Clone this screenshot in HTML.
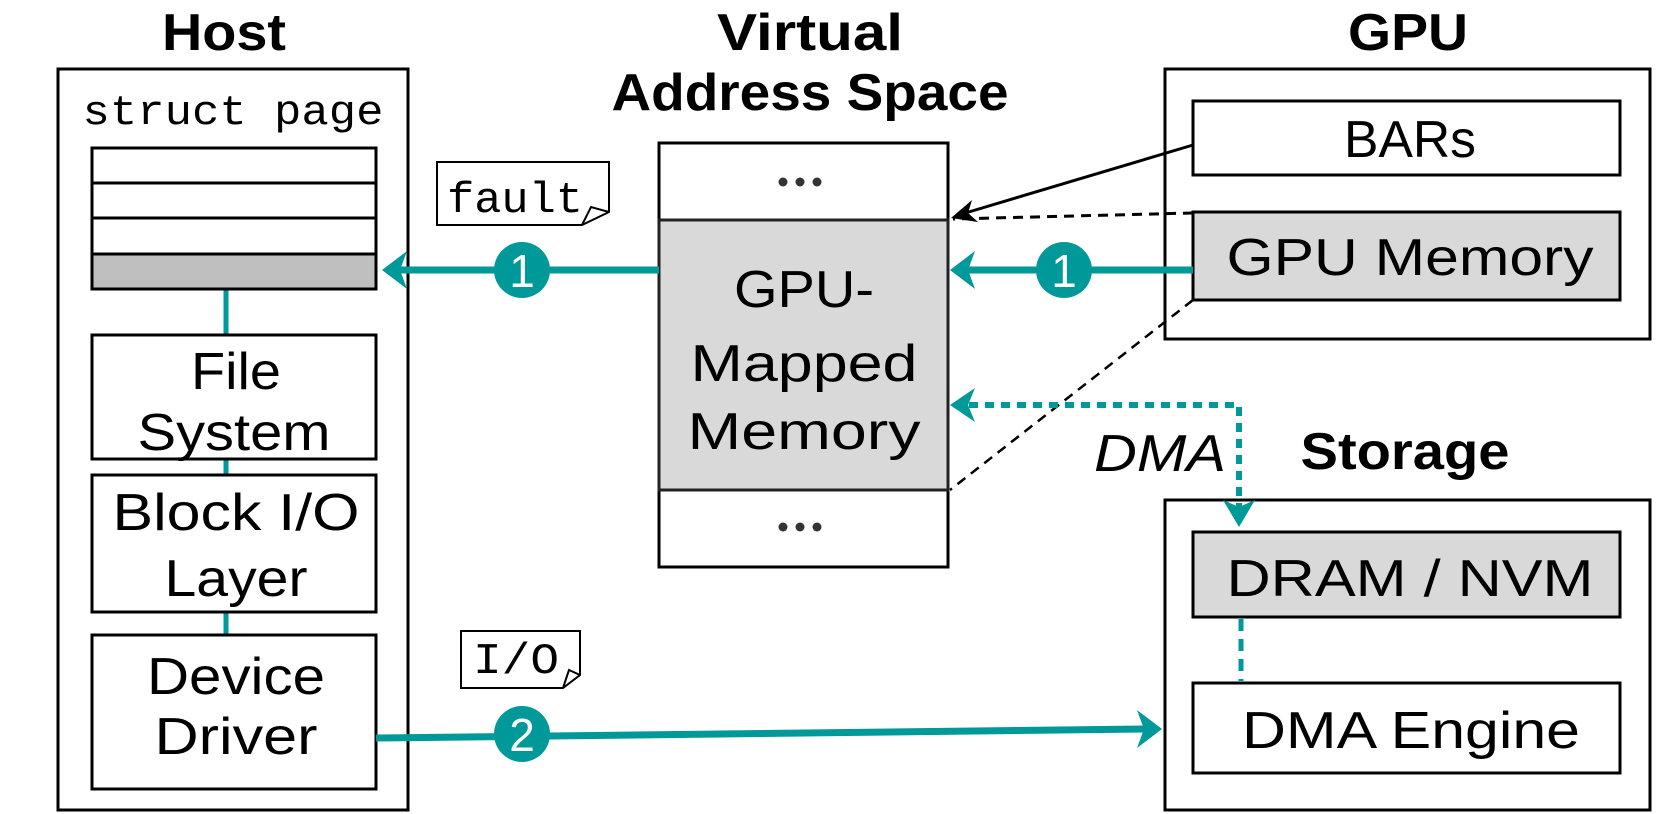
<!DOCTYPE html>
<html><head><meta charset="utf-8"><style>
html,body{margin:0;padding:0;background:#fff;}
svg{display:block;}
text{font-family:"Liberation Sans",sans-serif;fill:#000;}
.m{font-family:"Liberation Mono",monospace;}
</style></head><body>
<svg width="1661" height="814" viewBox="0 0 1661 814" xmlns="http://www.w3.org/2000/svg">
<g font-weight="bold" font-size="52" text-anchor="middle" lengthAdjust="spacingAndGlyphs">
<text x="224" y="50" textLength="124" lengthAdjust="spacingAndGlyphs">Host</text>
<text x="810" y="50" textLength="186" lengthAdjust="spacingAndGlyphs">Virtual</text>
<text x="810" y="110" textLength="397" lengthAdjust="spacingAndGlyphs">Address Space</text>
<text x="1408" y="50" textLength="120" lengthAdjust="spacingAndGlyphs">GPU</text>
<text x="1405" y="469" textLength="209" lengthAdjust="spacingAndGlyphs">Storage</text>
</g>
<!-- Host -->
<rect x="58" y="69" width="350" height="741" fill="#fff" stroke="#000" stroke-width="3"/>
<text class="m" x="233" y="124" font-size="42" text-anchor="middle" textLength="301" lengthAdjust="spacingAndGlyphs">struct page</text>
<line x1="226" y1="289" x2="226" y2="635" stroke="#009999" stroke-width="5"/>
<rect x="92" y="148" width="284" height="141" fill="#fff" stroke="#000" stroke-width="3"/>
<rect x="92" y="254" width="284" height="35" fill="#bfbfbf" stroke="#000" stroke-width="3"/>
<line x1="92" y1="183" x2="376" y2="183" stroke="#000" stroke-width="3"/>
<line x1="92" y1="218" x2="376" y2="218" stroke="#000" stroke-width="3"/>
<g fill="#fff" stroke="#000" stroke-width="3">
<rect x="92" y="335" width="284" height="124"/>
<rect x="92" y="475" width="284" height="137"/>
<rect x="92" y="635" width="284" height="154"/>
</g>
<g font-size="52" text-anchor="middle">
<text x="236" y="389" textLength="90" lengthAdjust="spacingAndGlyphs">File</text>
<text x="234" y="450" textLength="193" lengthAdjust="spacingAndGlyphs">System</text>
<text x="236" y="530" textLength="247" lengthAdjust="spacingAndGlyphs">Block I/O</text>
<text x="236" y="596" textLength="143" lengthAdjust="spacingAndGlyphs">Layer</text>
<text x="236" y="694" textLength="178" lengthAdjust="spacingAndGlyphs">Device</text>
<text x="236" y="754" textLength="163" lengthAdjust="spacingAndGlyphs">Driver</text>
</g>
<!-- VAS -->
<rect x="659" y="143" width="289" height="424" fill="#fff" stroke="#000" stroke-width="3"/>
<rect x="659" y="220" width="289" height="270" fill="#d9d9d9" stroke="#222" stroke-width="3"/>
<g fill="#333"><circle cx="783" cy="182" r="4.5"/><circle cx="800" cy="182" r="4.5"/><circle cx="817" cy="182" r="4.5"/>
<circle cx="783" cy="527" r="4.5"/><circle cx="800" cy="527" r="4.5"/><circle cx="817" cy="527" r="4.5"/></g>
<g font-size="52" text-anchor="middle">
<text x="804" y="307" textLength="140" lengthAdjust="spacingAndGlyphs">GPU-</text>
<text x="804" y="381" textLength="227" lengthAdjust="spacingAndGlyphs">Mapped</text>
<text x="804" y="449" textLength="233" lengthAdjust="spacingAndGlyphs">Memory</text>
</g>
<!-- GPU -->
<rect x="1165" y="69" width="485" height="270" fill="#fff" stroke="#000" stroke-width="3"/>
<rect x="1193" y="101" width="427" height="74" fill="#fff" stroke="#000" stroke-width="3"/>
<rect x="1193" y="212" width="427" height="88" fill="#d9d9d9" stroke="#000" stroke-width="3"/>
<g font-size="52" text-anchor="middle">
<text x="1410" y="157" textLength="132" lengthAdjust="spacingAndGlyphs">BARs</text>
<text x="1410" y="275" textLength="367" lengthAdjust="spacingAndGlyphs">GPU Memory</text>
</g>
<!-- Storage -->
<rect x="1165" y="500" width="485" height="310" fill="#fff" stroke="#000" stroke-width="3"/>
<rect x="1193" y="532" width="427" height="85" fill="#d9d9d9" stroke="#000" stroke-width="3"/>
<rect x="1193" y="683" width="427" height="90" fill="#fff" stroke="#000" stroke-width="3"/>
<g font-size="52" text-anchor="middle">
<text x="1410" y="596" textLength="367" lengthAdjust="spacingAndGlyphs">DRAM / NVM</text>
<text x="1411" y="748" textLength="338" lengthAdjust="spacingAndGlyphs">DMA Engine</text>
</g>
<line x1="1241" y1="619" x2="1241" y2="681" stroke="#009999" stroke-width="5" stroke-dasharray="12,8"/>
<!-- black connectors -->
<line x1="1193" y1="145" x2="962" y2="214" stroke="#000" stroke-width="3"/>
<path d="M951,218 L972,200 L968,213 L978,222 Z" fill="#000"/>
<line x1="1193" y1="213" x2="953" y2="219" stroke="#000" stroke-width="3" stroke-dasharray="10,7"/>
<line x1="1193" y1="300" x2="950" y2="490" stroke="#000" stroke-width="2.5" stroke-dasharray="10,7"/>
<!-- teal arrows -->
<line x1="659" y1="270" x2="395" y2="270" stroke="#009999" stroke-width="7"/>
<path d="M382,270 L407,251 L400,270 L407,289 Z" fill="#009999"/>
<line x1="1193" y1="270" x2="962" y2="270" stroke="#009999" stroke-width="7"/>
<path d="M950,270 L975,251 L968,270 L975,289 Z" fill="#009999"/>
<line x1="376" y1="738" x2="1148" y2="729" stroke="#009999" stroke-width="7"/>
<path d="M1162,729 L1137,710 L1144,729 L1137,748 Z" fill="#009999"/>
<path d="M1239,512 L1239,405 L962,405" fill="none" stroke="#009999" stroke-width="6" stroke-dasharray="9,7"/>
<path d="M950,405 L975,388 L968,405 L975,422 Z" fill="#009999"/>
<path d="M1239,527 L1223,500 L1239,507 L1255,500 Z" fill="#009999"/>
<text x="1160" y="471" font-size="52" font-style="italic" text-anchor="middle" textLength="132" lengthAdjust="spacingAndGlyphs">DMA</text>
<!-- circles -->
<g fill="#009999"><circle cx="522" cy="270" r="28"/><circle cx="1064" cy="270" r="28"/><circle cx="522" cy="734" r="28"/></g>
<g font-size="46" text-anchor="middle">
<text x="522" y="287" style="fill:#fff">1</text><text x="1064" y="287" style="fill:#fff">1</text><text x="522" y="751" style="fill:#fff">2</text>
</g>
<!-- notes -->
<path d="M437,162 L609,162 L609,212 L582,225 L437,225 Z" fill="#fff" stroke="#000" stroke-width="2"/>
<path d="M582,225 L591,207 L609,212" fill="none" stroke="#000" stroke-width="2"/>
<text class="m" x="447" y="212" font-size="44" textLength="136" lengthAdjust="spacingAndGlyphs">fault</text>
<path d="M461,631 L580,631 L580,675 L563,688 L461,688 Z" fill="#fff" stroke="#000" stroke-width="2"/>
<path d="M563,688 L569,670 L580,675" fill="none" stroke="#000" stroke-width="2"/>
<text class="m" x="473" y="673" font-size="44" textLength="86" lengthAdjust="spacingAndGlyphs">I/O</text>
</svg>
</body></html>
